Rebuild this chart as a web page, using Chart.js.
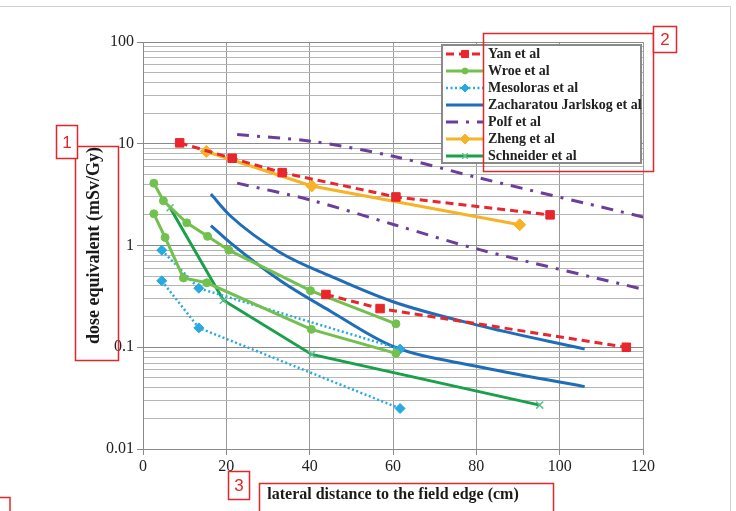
<!DOCTYPE html>
<html>
<head>
<meta charset="utf-8">
<script src="https://cdn.jsdelivr.net/npm/chart.js@4.4.0/dist/chart.umd.min.js"></script>
<style>
  html, body { margin: 0; padding: 0; background: #fff; }
  #wrap { width: 736px; height: 511px; position: relative; }
</style>
</head>
<body>
<div id="wrap"><canvas id="graficoDosis"></canvas></div>
<script>
// lateral distance to field edge (cm) / dose equivalent (mSv/Gy)
const yanX = [8.8, 21.4, 33.4, 60.7, 97.7];
const yanY = [10.2, 7.2, 5.2, 3.0, 2.0];
const yanX2 = [43.9, 56.9, 116];
const yanY2 = [0.33, 0.24, 0.1];

const wroeX = [2.6, 4.9, 10.5, 15.5, 20.6, 40.2, 60.7];
const wroeY = [4.1, 2.75, 1.67, 1.23, 0.9, 0.36, 0.17];
const wroeX2 = [2.6, 5.3, 9.7, 15.3, 40.4, 60.7];
const wroeY2 = [2.05, 1.2, 0.48, 0.43, 0.15, 0.087];

const mesoX = [4.5, 13.4, 61.7];
const mesoY = [0.9, 0.38, 0.096];
const mesoX2 = [4.5, 13.4, 61.7];
const mesoY2 = [0.45, 0.155, 0.025];

const zachX = [16.3, 21, 33, 45, 60, 80, 106];
const zachY = [3.2, 1.95, 0.85, 0.5, 0.28, 0.166, 0.096];
const zachX2 = [16.3, 21, 33, 45, 60, 80, 106];
const zachY2 = [1.57, 1.06, 0.45, 0.226, 0.102, 0.065, 0.041];

const polfX = [22.6, 40.2, 60.3, 80.8, 120.2];
const polfY = [12.3, 10.6, 7.5, 4.6, 1.9];
const polfX2 = [22.6, 40.2, 60.3, 80.8, 120.2];
const polfY2 = [4.1, 2.8, 1.6, 0.91, 0.37];

const zhengX = [15.2, 40.5, 90.4];
const zhengY = [8.4, 3.85, 1.6];

const schnX = [6.5, 19.3, 40.5, 95.2];
const schnY = [2.35, 0.29, 0.085, 0.027];

const xTicks = [0, 20, 40, 60, 80, 100, 120];
const yLabels = [0.01, 0.1, 1, 10, 100];

const pts = (xs, ys) => xs.map((x, i) => ({ x: x, y: ys[i] }));
const serif = '"Liberation Serif", "Times New Roman", serif';

function serie(label, xs, ys, color, extra, hide) {
  return Object.assign({
    label: label,
    data: pts(xs, ys),
    borderColor: color,
    backgroundColor: color,
    pointBackgroundColor: color,
    pointBorderColor: color,
    borderWidth: 3,
    pointRadius: 0,
    pointBorderWidth: 1,
    tension: 0,
    hideInLegend: !!hide
  }, extra);
}

const yan = { borderDash: [8, 5], pointStyle: 'rect', pointRadius: 6 };
const wroe = { pointStyle: 'circle', pointRadius: 4 };
const meso = { borderDash: [2, 2.5], borderWidth: 2.5, pointStyle: 'rectRot', pointRadius: 5 };
const zach = { cubicInterpolationMode: 'monotone' };
const polf = { borderDash: [12, 8, 3, 8], tension: 0.3 };
const zheng = { pointStyle: 'rectRot', pointRadius: 6 };
const schn = { pointStyle: 'crossRot', pointRadius: 5, pointBorderWidth: 1.5, pointBorderColor: '#5cbf8c' };

const datasets = [
  serie('Yan et al', yanX, yanY, '#e8262b', yan),
  serie('Yan et al', yanX2, yanY2, '#e8262b', yan, true),
  serie('Wroe et al', wroeX, wroeY, '#72c04e', wroe),
  serie('Wroe et al', wroeX2, wroeY2, '#72c04e', wroe, true),
  serie('Mesoloras et al', mesoX, mesoY, '#29a9e1', meso),
  serie('Mesoloras et al', mesoX2, mesoY2, '#29a9e1', meso, true),
  serie('Zacharatou Jarlskog et al', zachX, zachY, '#1f6cb8', zach),
  serie('Zacharatou Jarlskog et al', zachX2, zachY2, '#1f6cb8', zach, true),
  serie('Polf et al', polfX, polfY, '#6b3e9c', polf),
  serie('Polf et al', polfX2, polfY2, '#6b3e9c', polf, true),
  serie('Zheng et al', zhengX, zhengY, '#f7b225', zheng),
  serie('Schneider et al', schnX, schnY, '#1aa04a', schn)
];

const esMayor = v => yLabels.includes(v);

// legend drawn inside the plot, top right
const leyenda = {
  id: 'leyenda',
  afterDatasetsDraw(chart) {
    const ctx = chart.ctx;
    const area = chart.chartArea;
    const w = 199, h = 118;
    const left = area.right - w - 2, top = area.top + 3;
    ctx.save();
    ctx.fillStyle = '#fff';
    ctx.fillRect(left, top, w, h);
    ctx.strokeStyle = '#8a8a8a';
    ctx.lineWidth = 2;
    ctx.strokeRect(left, top, w, h);
    let fila = 0;
    chart.data.datasets.forEach(ds => {
      if (ds.hideInLegend) return;
      const cy = top + 9 + fila * 17;
      ctx.strokeStyle = ds.borderColor;
      ctx.lineWidth = ds.borderWidth;
      ctx.setLineDash(ds.borderDash || []);
      ctx.beginPath();
      ctx.moveTo(left + 4, cy);
      ctx.lineTo(left + 42, cy);
      ctx.stroke();
      ctx.setLineDash([]);
      if (ds.pointRadius > 0) {
        ctx.fillStyle = ds.pointBackgroundColor;
        ctx.strokeStyle = ds.pointBorderColor;
        ctx.lineWidth = ds.pointBorderWidth;
        Chart.helpers.drawPoint(ctx, {
          pointStyle: ds.pointStyle, radius: ds.pointRadius - 1,
          rotation: 0, borderWidth: ds.pointBorderWidth
        }, left + 23, cy);
      }
      ctx.fillStyle = '#222';
      ctx.font = 'bold 14px ' + serif;
      ctx.textBaseline = 'middle';
      ctx.textAlign = 'left';
      ctx.fillText(ds.label, left + 46, cy);
      fila++;
    });
    ctx.restore();
  }
};

// page frame and the red numbered call-out boxes
const marcas = {
  id: 'marcas',
  afterDraw(chart) {
    const ctx = chart.ctx;
    ctx.save();
    ctx.strokeStyle = '#d2d2d2';
    ctx.lineWidth = 1;
    ctx.beginPath();
    ctx.moveTo(0, 6.5); ctx.lineTo(730.5, 6.5); ctx.lineTo(730.5, 511);
    ctx.stroke();

    ctx.strokeStyle = '#e3262b';
    ctx.lineWidth = 1.5;
    ctx.strokeRect(75.5, 146.5, 43, 214);
    ctx.strokeRect(483.5, 33.5, 170, 138);
    ctx.strokeRect(259.5, 483.5, 294, 40);
    ctx.strokeRect(-5, 497.5, 15, 20);
    const etiqueta = (x, y, w, h, t) => {
      ctx.fillStyle = '#fff';
      ctx.fillRect(x, y, w, h);
      ctx.strokeRect(x, y, w, h);
      ctx.fillStyle = '#e3262b';
      ctx.font = '17px "Liberation Sans", Arial, sans-serif';
      ctx.textAlign = 'center';
      ctx.textBaseline = 'middle';
      ctx.fillText(t, x + w / 2, y + h / 2 + 1);
    };
    etiqueta(56.5, 125.5, 21, 33, '1');
    etiqueta(653.5, 26.5, 23, 26, '2');
    etiqueta(228.5, 471.5, 21, 28, '3');
    ctx.restore();
  }
};

new Chart(document.getElementById('graficoDosis'), {
  type: 'line',
  data: { datasets: datasets },
  options: {
    responsive: true,
    maintainAspectRatio: false,
    animation: false,
    layout: { padding: { left: 80, top: 42, right: 93, bottom: 0 } },
    plugins: { legend: { display: false }, tooltip: { enabled: false } },
    scales: {
      x: {
        type: 'linear',
        min: 0,
        max: 120,
        afterBuildTicks: s => { s.ticks = xTicks.map(v => ({ value: v })); },
        afterFit: s => { s.height = 62; },
        ticks: { font: { family: serif, size: 16 }, color: '#222', padding: 2 },
        grid: { color: '#9a9a9a', tickLength: 6, tickColor: '#8a8a8a' },
        border: { color: '#8a8a8a' },
        title: {
          display: true,
          text: 'lateral distance to the field edge (cm)',
          font: { family: serif, size: 16, weight: 'bold' },
          color: '#1a1a1a',
          padding: { top: 0, bottom: 7 }
        }
      },
      y: {
        type: 'logarithmic',
        min: 0.01,
        max: 100,
        afterBuildTicks: s => {
          const t = [];
          for (let e = -2; e <= 2; e++) {
            for (let m = 1; m <= 9; m++) {
              const v = Number((m * Math.pow(10, e)).toPrecision(2));
              if (v <= 100) t.push({ value: v });
            }
          }
          s.ticks = t;
        },
        afterFit: s => { s.width = 63; },
        ticks: {
          autoSkip: false,
          padding: 3,
          font: { family: serif, size: 16 },
          color: '#222',
          callback: v => esMayor(v) ? String(v) : ''
        },
        grid: {
          tickLength: 6,
          color: c => esMayor(c.tick.value) ? '#8a8a8a' : '#b5b5b5',
          tickColor: c => esMayor(c.tick.value) ? '#8a8a8a' : 'rgba(0,0,0,0)'
        },
        border: { color: '#8a8a8a' },
        title: {
          display: true,
          text: 'dose equivalent (mSv/Gy)',
          font: { family: serif, size: 18, weight: 'bold' },
          color: '#1a1a1a',
          padding: { top: 4, bottom: 0 }
        }
      }
    }
  },
  plugins: [leyenda, marcas]
});
</script>
</body>
</html>
